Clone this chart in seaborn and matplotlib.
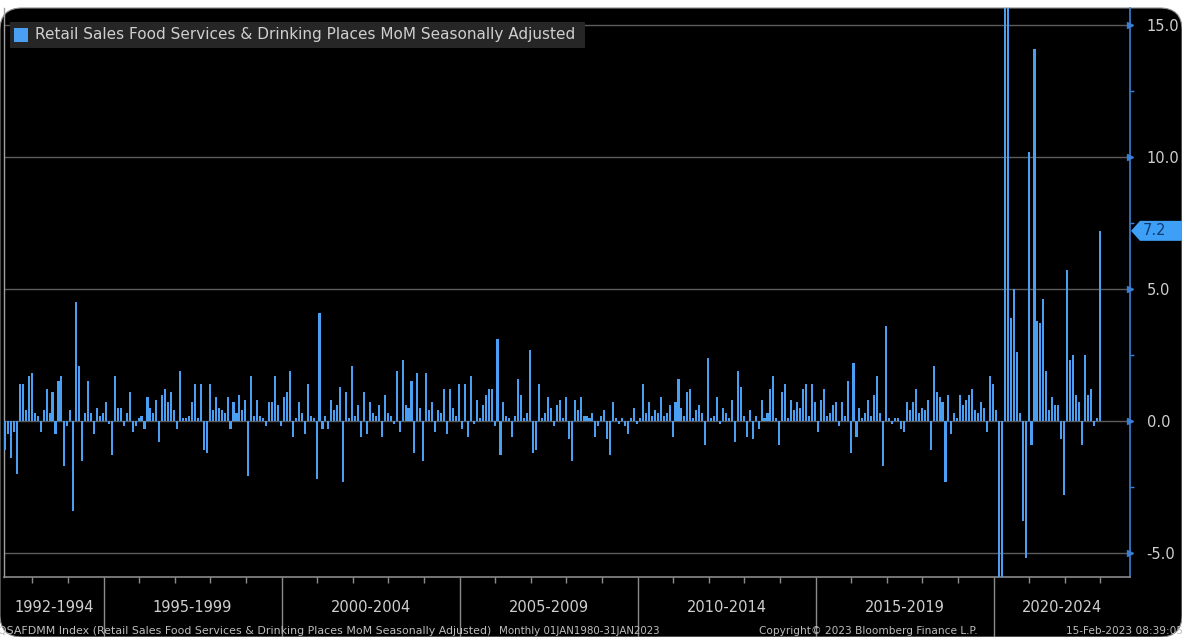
import numpy as np
import pandas as pd
import seaborn as sns
import matplotlib
matplotlib.use("Agg")
import matplotlib.pyplot as plt
from matplotlib.patches import FancyBboxPatch, Rectangle, Polygon
from matplotlib.ticker import MultipleLocator
from matplotlib.transforms import Affine2D, blended_transform_factory

# Retail sales, food services & drinking places, MoM % (SA)
# monthly from Apr-1992 to Jan-2023, split like the x-axis bands
mom_1992_1994 = [
    -1.1, -0.5, -1.4, -0.4, -2.0, 1.4, 1.4, 0.4, 1.7,
    1.8, 0.3, 0.2, -0.4, 0.4, 1.2, 0.3, 1.1, -0.5, 1.5, 1.7, -1.7,
    -0.2, 0.4, -3.4, 4.5, 2.1, -1.5, 0.3, 1.5, 0.3, -0.5, 0.5, 0.2,
]
mom_1995_1999 = [
    0.3, 0.7, -0.1, -1.3, 1.7, 0.5, 0.5, -0.2, 0.3, 1.1, -0.4, -0.2,
    0.1, 0.2, -0.3, 0.9, 0.5, 0.3, 0.8, -0.8, 1.0, 1.2, 0.7, 1.1,
    0.4, -0.3, 1.9, 0.1, 0.1, 0.2, 0.7, 1.4, 0.1, 1.4, -1.1, -1.2,
    1.4, 0.4, 0.9, 0.5, 0.4, 0.3, 0.9, -0.3, 0.7, 0.3, 1.0, 0.4,
    0.8, -2.1, 1.7, 0.2, 0.8, 0.2, 0.1, -0.2, 0.7, 0.7, 1.7, 0.6,
]
mom_2000_2004 = [
    -0.2, 0.9, 1.1, 1.9, -0.6, 0.1, 0.7, 0.3, -0.5, 1.4, 0.2, 0.1,
    -2.2, 4.1, -0.3, 0.2, -0.3, 0.8, 0.4, 0.6, 1.3, -2.3, 1.1, 0.1,
    2.1, 0.2, 0.6, -0.6, 1.1, -0.5, 0.7, 0.3, 0.2, 0.6, -0.6, 1.0,
    0.3, 0.2, -0.1, 1.9, -0.4, 2.3, 0.6, 0.5, 1.5, -1.2, 1.8, 0.5,
    -1.5, 1.8, 0.4, 0.7, -0.4, 0.4, 0.3, 1.2, -0.5, 1.2, 0.5, 0.2,
]
mom_2005_2009 = [
    1.4, -0.3, 1.4, -0.6, 1.7, -0.1, 0.8, 0.1, 0.6, 1.0, 1.2, 1.2,
    -0.2, 3.1, -1.3, 0.7, 0.2, 0.1, -0.6, 0.2, 1.6, 1.0, 0.1, 0.3,
    2.7, -1.2, -1.1, 1.4, 0.1, 0.3, 0.9, 0.5, -0.2, 0.6, 0.8, 0.1,
    0.9, -0.7, -1.5, 0.8, 0.4, 0.9, 0.2, 0.2, 0.1, 0.3, -0.6, -0.2,
    0.2, 0.4, -0.7, -1.3, 0.7, 0.1, -0.1, 0.1, -0.2, -0.5, 0.1, 0.5,
]
mom_2010_2014 = [
    -0.1, 0.1, 1.4, 0.3, 0.7, 0.2, 0.4, 0.3, 0.9, 0.2, 0.3, 0.6,
    -0.6, 0.7, 1.6, 0.5, 0.2, 1.1, 1.2, 0.1, 0.4, 0.6, 0.3, -0.9,
    2.4, 0.1, 0.2, 0.9, -0.1, 0.5, 0.3, 0.1, 0.8, -0.8, 1.9, 1.3,
    0.2, -0.6, 0.4, -0.7, 0.2, -0.3, 0.8, 0.1, 0.3, 1.2, 1.7, 0.1,
    -0.9, 1.1, 1.4, 0.1, 0.8, 0.4, 0.7, 0.5, 1.2, 1.4, 0.2, 1.4,
]
mom_2015_2019 = [
    0.7, -0.4, 0.8, 1.2, 0.2, 0.3, 0.6, 0.7, -0.2, 0.7, 0.2, 1.5,
    -1.2, 2.2, -0.6, 0.5, 0.1, 0.3, 0.8, 0.2, 1.0, 1.7, 0.3, -1.7,
    3.6, 0.1, -0.1, 0.1, 0.1, -0.3, -0.4, 0.7, 0.4, 0.7, 1.2, 0.3,
    0.5, 0.4, 0.8, -1.1, 2.1, 1.1, 0.9, 0.7, -2.3, 1.0, -0.5, 0.3,
    0.1, 1.0, 0.6, 0.8, 1.0, 1.2, 0.4, 0.3, 0.7, 0.5, -0.4, 1.7,
]
mom_2020_2024 = [
    1.4, 0.4, -26.5, -29.5, 29.1, 20.0, 3.9, 5.0, 2.6, 0.3, -3.8, -5.2,
    10.2, -0.9, 14.1, 3.8, 3.7, 4.6, 1.9, 0.4, 0.9, 0.6, 0.6, -0.7,
    -2.8, 5.7, 2.3, 2.5, 1.0, 0.7, -0.9, 2.5, 1.0, 1.2, -0.2, 0.1,
    7.2,
]
period_labels = ["1992-1994", "1995-1999", "2000-2004", "2005-2009",
                 "2010-2014", "2015-2019", "2020-2024"]
separator_years = [1995, 2000, 2005, 2010, 2015, 2020]
last_value = 7.2

legend_text = "Retail Sales Food Services & Drinking Places MoM Seasonally Adjusted"
footer_index = "QSAFDMM Index (Retail Sales Food Services & Drinking Places MoM Seasonally Adjusted)"
footer_range = "Monthly 01JAN1980-31JAN2023"
footer_mid = "Copyright\u00a9 2023 Bloomberg Finance L.P."
footer_right = "15-Feb-2023 08:39:05"

BAR = "#4a9ff2"
AXBLUE = "#3a7fd4"
GRID = "#5c5c5c"
TXT = "#cfcfcf"
FOOT = "#bdbdbd"

W, H = 1182, 637

values = (mom_1992_1994 + mom_1995_1999 + mom_2000_2004 + mom_2005_2009
          + mom_2010_2014 + mom_2015_2019 + mom_2020_2024)
df = pd.DataFrame({"k": np.arange(len(values)), "mom": values})


def year_pos(y):
    # month index of the Dec/Jan boundary, k=0 is Apr-1992
    return (y - 1992) * 12 - 3 + 0.2


sns.set_theme(style="dark")
plt.rcParams["font.family"] = ["DejaVu Sans"]

fig = plt.figure(figsize=(W / 100, H / 100), dpi=100)
fig.patch.set_facecolor("white")
px = Affine2D().scale(1 / W, 1 / H) + fig.transFigure

# screenshot panel with rounded corners
fig.add_artist(FancyBboxPatch((0, 0), W, H - 8, boxstyle="round,pad=0,rounding_size=22",
                              transform=px, fc="black", ec="#8c8c8c", lw=0.8, zorder=-5))

left, right, top, bottom = 4, 1130, 8, 577
ax = fig.add_axes([left / W, (H - bottom) / H, (right - left) / W, (bottom - top) / H])
ax.set_facecolor("none")

sns.barplot(data=df, x="k", y="mom", native_scale=True, color=BAR, saturation=1,
            width=0.7, errorbar=None, linewidth=0, ax=ax, zorder=3)

ax.set_xlim(-0.36, 379.2)
ax.set_ylim(-5.91, 15.64)
ax.set_xlabel("")
ax.set_ylabel("")

# y axis on the right, Bloomberg style
ax.yaxis.tick_right()
yt = [-5, 0, 5, 10, 15]
ax.set_yticks(yt)
ax.set_yticklabels([f"{v:.1f}" for v in yt])
ax.yaxis.set_minor_locator(MultipleLocator(2.5))
ax.tick_params(axis="y", which="major", length=0, pad=12, labelsize=10.5, labelcolor=TXT)
ax.tick_params(axis="y", which="minor", length=3, width=1, color=AXBLUE, right=True, left=False)
ax.yaxis.grid(True, which="major", color=GRID, lw=1)
ax.xaxis.grid(False)
bt = blended_transform_factory(ax.transAxes, ax.transData)
ax.plot([1.0] * len(yt), yt, ls="none", marker=">", ms=5, color=AXBLUE,
        transform=bt, clip_on=False, zorder=6)

# current value tag, flush to the right edge
tag_t = blended_transform_factory(px, ax.transData)
dy = 10 / 26.4
fig.add_artist(Polygon([(1131, last_value), (1140, last_value + dy), (W + 2, last_value + dy),
                        (W + 2, last_value - dy), (1140, last_value - dy)],
                       closed=True, transform=tag_t, fc="#3d9ff5", ec="none", zorder=8))
fig.text(1143, last_value, f"{last_value:.1f}", transform=tag_t, ha="left", va="center",
         fontsize=10.5, color="#123a70", zorder=9)

# x axis: yearly ticks and 5-year separators
ax.set_xticks([year_pos(y) for y in separator_years])
ax.set_xticklabels([])
ax.set_xticks([year_pos(y) for y in range(1993, 2024)], minor=True)
ax.tick_params(axis="x", which="major", length=44, width=1, color="#8a8a8a", bottom=True)
ax.tick_params(axis="x", which="minor", length=4, width=1, color="#8a8a8a", bottom=True)

edges = [-0.36] + [year_pos(y) for y in separator_years] + [379.2]
xt = blended_transform_factory(ax.transData, px)
for lab, a, b in zip(period_labels, edges[:-1], edges[1:]):
    ax.text((a + b) / 2, H - 607, lab, transform=xt, ha="center", va="center",
            fontsize=10.5, color=TXT, clip_on=False)

ax.spines["top"].set_visible(False)
ax.spines["right"].set_color(AXBLUE)
ax.spines["right"].set_linewidth(1.2)
ax.spines["left"].set_color("#a0a0a0")
ax.spines["left"].set_linewidth(1)
ax.spines["bottom"].set_color("#8a8a8a")
ax.spines["bottom"].set_linewidth(1.2)

# legend box
fig.add_artist(Rectangle((10, H - 48), 575, 26, transform=px, fc="#262626", ec="none", zorder=5))
fig.add_artist(Rectangle((14, H - 42), 14, 14, transform=px, fc=BAR, ec="none", zorder=6))
fig.text(35, H - 35, legend_text, transform=px, ha="left", va="center", fontsize=11,
         color=TXT, zorder=7)

# footer
fy = H - 631
fig.text(-2, fy, footer_index, transform=px, ha="left", va="center", fontsize=7.9, color=FOOT)
fig.text(499, fy, footer_range, transform=px, ha="left", va="center", fontsize=7.4, color=FOOT)
fig.text(868, fy, footer_mid, transform=px, ha="center", va="center", fontsize=7.6, color=FOOT)
fig.text(1066, fy, footer_right, transform=px, ha="left", va="center", fontsize=7.6, color=FOOT)

fig.savefig("out.png", dpi=100, facecolor=fig.get_facecolor())
